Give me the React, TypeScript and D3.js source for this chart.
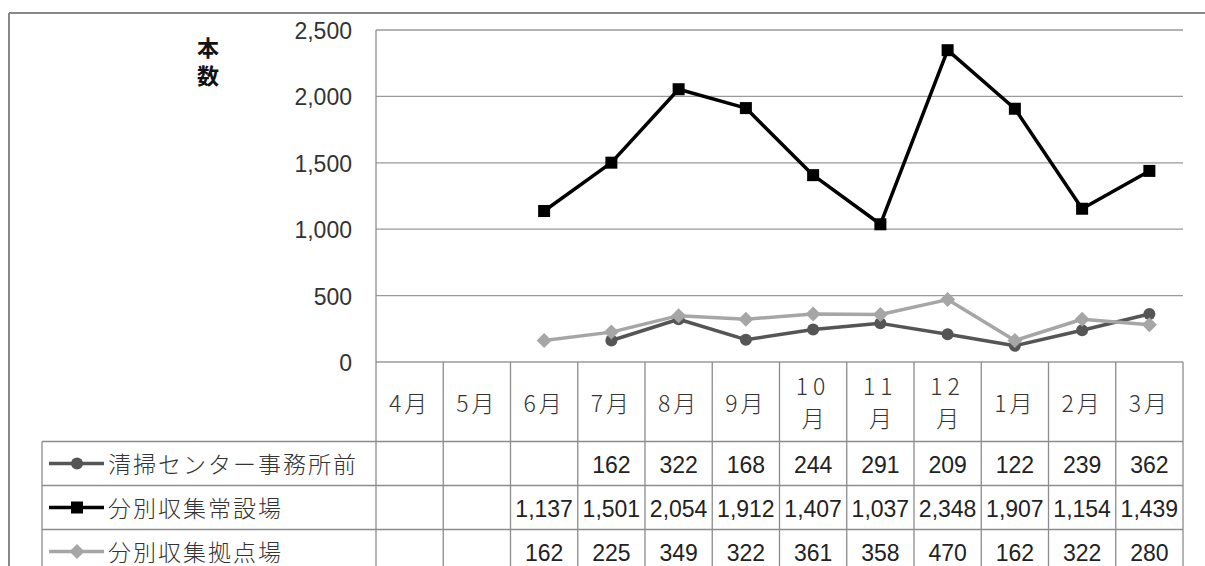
import React from "react";
import * as d3 from "d3";

const months = ["4月", "5月", "6月", "7月", "8月", "9月", "10月", "11月", "12月", "1月", "2月", "3月"];
const seriesNames = ["清掃センター事務所前", "分別収集常設場", "分別収集拠点場"];
const seisouCenter: (number | null)[] = [null, null, null, 162, 322, 168, 244, 291, 209, 122, 239, 362];
const jousetsu: (number | null)[] = [null, null, 1137, 1501, 2054, 1912, 1407, 1037, 2348, 1907, 1154, 1439];
const kyoten: (number | null)[] = [null, null, 162, 225, 349, 322, 361, 358, 470, 162, 322, 280];
const yTicks = [0, 500, 1000, 1500, 2000, 2500];
const yTitle = "本数";

const W = 1205;
const H = 566;
const plotL = 376;
const plotR = 1183;
const plotT = 30;
const plotB = 362;
const headerB = 441.5;
const rowH = 44;
const tableL = 42;

const colors = ["#555555", "#000000", "#a6a6a6"];
const shapes = ["circle", "square", "diamond"];
const allSeries = [seisouCenter, jousetsu, kyoten];

const fmt = d3.format(",");
const numFont = "'Liberation Sans', Arial, sans-serif";
const jpFont = "'Noto Sans CJK JP', sans-serif";

function Marker({ shape, x, y, color }: { shape: string; x: number; y: number; color: string }) {
  if (shape === "circle") return <circle cx={x} cy={y} r={6} fill={color} />;
  if (shape === "square") return <rect x={x - 6} y={y - 6} width={12} height={12} fill={color} />;
  const s = 7.5;
  return <path d={`M${x},${y - s}L${x + s},${y}L${x},${y + s}L${x - s},${y}Z`} fill={color} />;
}

export default function App() {
  const x = d3.scaleBand<string>().domain(months).range([plotL, plotR]).padding(0);
  const y = d3.scaleLinear().domain([0, 2500]).range([plotB, plotT]);
  const bw = x.bandwidth();
  const cx = (m: string) => (x(m) as number) + bw / 2;

  const line = d3
    .line<number | null>()
    .defined((d) => d != null)
    .x((_, i) => cx(months[i]))
    .y((d) => y(d as number));

  const gridColor = "#9a9a9a";
  const tableColor = "#8c8c8c";
  const rowYs = [headerB, headerB + rowH, headerB + 2 * rowH, headerB + 3 * rowH];

  return (
    <svg
      width={W}
      height={H}
      style={{ position: "absolute", left: 0, top: 0, background: "#fff" }}
    >
      <rect x={0} y={0} width={W} height={H} fill="#fff" />
      {/* outer border */}
      <line x1={9} y1={13} x2={W} y2={13} stroke="#888" strokeWidth={2} />
      <line x1={9} y1={13} x2={9} y2={H} stroke="#888" strokeWidth={2} />

      {/* y title (vertical) */}
      <text
        x={208}
        y={37}
        fontFamily={jpFont}
        fontWeight={700}
        fontSize={22}
        textAnchor="start"
        writingMode="tb"
        letterSpacing={6}
        fill="#111"
      >
        {yTitle}
      </text>

      {/* gridlines */}
      {yTicks.map((t) => (
        <line key={t} x1={plotL} x2={plotR} y1={y(t)} y2={y(t)} stroke={gridColor} strokeWidth={1.3} />
      ))}
      {/* tick labels */}
      {yTicks.map((t) => (
        <text
          key={"l" + t}
          x={352}
          y={y(t) + 1}
          fontFamily={numFont}
          fontSize={23}
          textAnchor="end"
          dominantBaseline="central"
          fill="#333"
        >
          {fmt(t)}
        </text>
      ))}

      {/* table */}
      <line x1={plotL} x2={plotL} y1={plotT} y2={H} stroke={tableColor} strokeWidth={1.3} />
      {months.map((m) => (
        <line
          key={"v" + m}
          x1={(x(m) as number) + bw}
          x2={(x(m) as number) + bw}
          y1={plotB}
          y2={H}
          stroke={tableColor}
          strokeWidth={1.3}
        />
      ))}
      <line x1={tableL} x2={tableL} y1={headerB} y2={H} stroke={tableColor} strokeWidth={1.3} />
      {rowYs.map((ry, i) => (
        <line key={"r" + i} x1={tableL} x2={plotR} y1={ry} y2={ry} stroke={tableColor} strokeWidth={1.3} />
      ))}

      {/* month headers */}
      {months.map((m) => {
        const num = m.replace("月", "");
        const mid = (plotB + headerB) / 2;
        if (num.length > 1) {
          return (
            <g key={"h" + m}>
              <text
                x={cx(m)}
                y={mid - 17}
                fontFamily={jpFont}
                fontSize={23}
                fontWeight={300}
                textAnchor="middle"
                dominantBaseline="central"
                letterSpacing={5}
                fill="#333"
              >
                {num}
              </text>
              <text
                x={cx(m)}
                y={mid + 15}
                fontFamily={jpFont}
                fontSize={23}
                fontWeight={300}
                textAnchor="middle"
                dominantBaseline="central"
                fill="#333"
              >
                月
              </text>
            </g>
          );
        }
        return (
          <text
            key={"h" + m}
            x={cx(m)}
            y={mid}
            fontFamily={jpFont}
            fontSize={23}
            fontWeight={300}
            textAnchor="middle"
            dominantBaseline="central"
            letterSpacing={3}
            fill="#333"
          >
            {m}
          </text>
        );
      })}

      {/* legend cells and values */}
      {allSeries.map((s, si) => {
        const cy = headerB + rowH * si + rowH / 2;
        return (
          <g key={"row" + si}>
            <line x1={49} x2={104} y1={cy} y2={cy} stroke={colors[si]} strokeWidth={3.5} />
            <Marker shape={shapes[si]} x={77} y={cy} color={colors[si]} />
            <text
              x={108}
              y={cy - 1}
              fontFamily={jpFont}
              fontSize={23}
              fontWeight={300}
              dominantBaseline="central"
              letterSpacing={2}
              fill="#333"
            >
              {seriesNames[si]}
            </text>
            {s.map((v, i) =>
              v == null ? null : (
                <text
                  key={i}
                  x={cx(months[i])}
                  y={cy + 1}
                  fontFamily={numFont}
                  fontSize={23}
                  textAnchor="middle"
                  dominantBaseline="central"
                  fill="#222"
                >
                  {fmt(v)}
                </text>
              )
            )}
          </g>
        );
      })}

      {/* lines */}
      {[1, 0, 2].map((si) => (
        <g key={"s" + si}>
          <path d={line(allSeries[si]) || ""} fill="none" stroke={colors[si]} strokeWidth={3.5} strokeLinejoin="round" />
          {allSeries[si].map((v, i) =>
            v == null ? null : <Marker key={i} shape={shapes[si]} x={cx(months[i])} y={y(v)} color={colors[si]} />
          )}
        </g>
      ))}
    </svg>
  );
}
